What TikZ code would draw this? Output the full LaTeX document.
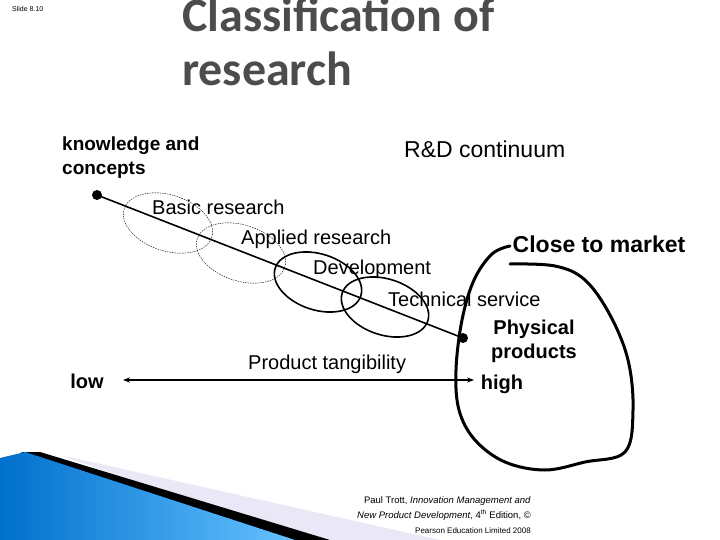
\documentclass[tikz,border=0pt]{standalone}
\usepackage{fontspec}
\setmainfont{Liberation Sans}
\newfontfamily\titlefont{Carlito}
\usetikzlibrary{arrows.meta,shapes.geometric}
\begin{document}
\begin{tikzpicture}[x=1pt,y=-1pt,
  lbl/.style={anchor=west,inner sep=0pt,font=\fontsize{20}{22}\selectfont},
  blbl/.style={inner sep=0pt,font=\fontsize{20}{24}\selectfont\bfseries},
  dot/.style={circle,fill=black,inner sep=0pt,minimum size=10pt},
  every node/.append style={align=left}]
\useasboundingbox (0,0) rectangle (720,540);
% bottom-left decoration
\fill[cyan!12!blue!8] (60,455) -- (440,540) -- (300,540) -- cycle;
\fill[black] (40,452) -- (330,540) -- (290,540) -- (20,452) -- cycle;
\shade[left color=cyan!55!blue!80!black, right color=cyan!60!blue!60] (0,458) -- (25,452) -- (295,540) -- (0,540) -- cycle;
% title
\node[anchor=west,inner sep=0pt,font=\fontsize{7}{8}\selectfont] (slide) at (12,9) {Slide 8.10};
\node[anchor=north west,inner sep=0pt,text=black!70,font=\titlefont\fontsize{48}{54}\selectfont\bfseries] (title) at (182,-2) {Classification of\\research};
\node[lbl,font=\fontsize{19}{24}\selectfont\bfseries] (kc) at (62,158) {knowledge and\\concepts};
\node[lbl,font=\fontsize{23}{26}\selectfont] (rd) at (404,149) {R\&D continuum};
% ellipses
\node[draw,dash pattern=on 1.5pt off 1pt,thin,ellipse,rotate=-18,minimum width=92pt,minimum height=56pt] (e1) at (168,223) {};
\node[draw,dash pattern=on 1.5pt off 1pt,thin,ellipse,rotate=-18,minimum width=92pt,minimum height=56pt] (e2) at (241,253) {};
\node[draw,line width=1.6pt,ellipse,rotate=-18,minimum width=90pt,minimum height=56pt] (e3) at (318,282) {};
\node[draw,line width=1.6pt,ellipse,rotate=-18,minimum width=90pt,minimum height=56pt] (e4) at (385,307) {};
\node[dot] (d1) at (97,195) {};
\node[dot] (d2) at (463,338) {};
\draw[line width=1.6pt] (d1.center) -- (d2.center);
\node[lbl] (br) at (152,207) {Basic research};
\node[lbl] (ar) at (241,239) {Applied research};
\node[lbl] (dv) at (313,269) {Development};
\node[lbl] (ts) at (388,299) {Technical service};
% loop
\draw[line width=3pt,line cap=round,line join=round] plot[smooth,tension=0.6] coordinates {(510,246) (492,254) (474,280) (462,320) (456,370) (459,410) (475,440) (505,462) (545,470) (585,462) (625,452) (633,410) (628,360) (610,315) (585,280) (555,266) (510,264)};
\node[blbl,font=\fontsize{23}{26}\selectfont\bfseries] (cm) at (599,244) {Close to market};
\node[blbl,align=center] (pp) at (534,341) {Physical\\products};
\node[blbl] (hi) at (502,384) {high};
\node[blbl] (lo) at (87,381) {low};
\node[lbl] (pt) at (248,364) {Product tangibility};
\coordinate (la) at (123,380);
\coordinate (ha) at (474,380);
\draw[line width=1.6pt,{Stealth[length=7pt]}-{Stealth[length=7pt]}] (la) -- (ha);
% citation
\node[anchor=north east,align=right,inner sep=0pt,font=\fontsize{9.5}{15}\selectfont] (cite) at (531,496) {Paul Trott, \textit{Innovation Management and}\\\textit{New Product Development}, 4\textsuperscript{th} Edition, \copyright\\{\fontsize{8}{12}\selectfont Pearson Education Limited 2008}};
\end{tikzpicture}
\end{document}
